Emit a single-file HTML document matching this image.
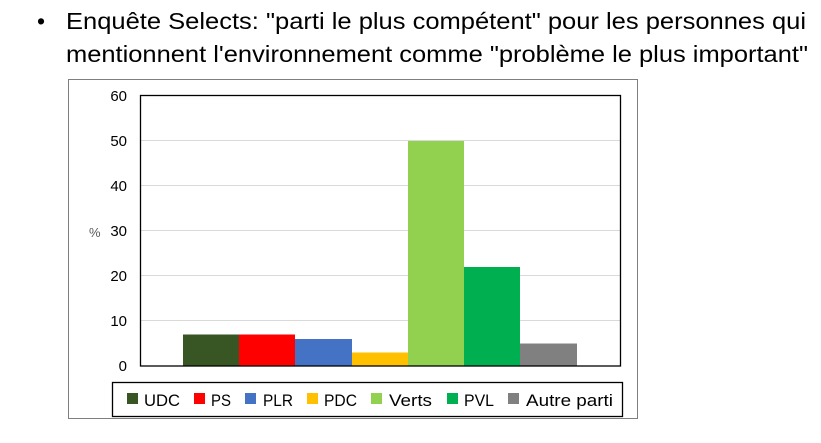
<!DOCTYPE html>
<html><head><meta charset="utf-8"><style>
html,body{margin:0;padding:0;background:#fff;width:821px;height:443px;overflow:hidden}
svg{display:block;font-family:"Liberation Sans",Arial,sans-serif}
</style></head><body>
<svg width="821" height="443" viewBox="0 0 821 443">
<text x="37" y="29" font-size="23" fill="#000">•</text>
<text x="66" y="29" font-size="23" fill="#000" textLength="740" lengthAdjust="spacingAndGlyphs">Enquête Selects: "parti le plus compétent" pour les personnes qui</text>
<text x="66" y="62" font-size="23" fill="#000" textLength="742" lengthAdjust="spacingAndGlyphs">mentionnent l'environnement comme "problème le plus important"</text>
<rect x="68.5" y="79.5" width="569" height="339" fill="#fff" stroke="#7f7f7f" stroke-width="1"/>
<g stroke="#d9d9d9" stroke-width="1">
<line x1="140" y1="140.5" x2="620" y2="140.5"/>
<line x1="140" y1="185.5" x2="620" y2="185.5"/>
<line x1="140" y1="230.5" x2="620" y2="230.5"/>
<line x1="140" y1="275.5" x2="620" y2="275.5"/>
<line x1="140" y1="320.5" x2="620" y2="320.5"/>
</g>
<rect x="183" y="334.5" width="56" height="31.5" fill="#375623"/>
<rect x="239" y="334.5" width="56" height="31.5" fill="#ff0000"/>
<rect x="295" y="339" width="57" height="27" fill="#4472c4"/>
<rect x="352" y="352.5" width="56" height="13.5" fill="#ffc000"/>
<rect x="408" y="141" width="56" height="225" fill="#92d050"/>
<rect x="464" y="267" width="56" height="99" fill="#00b050"/>
<rect x="520" y="343.5" width="57" height="22.5" fill="#808080"/>
<rect x="140.5" y="95.5" width="480" height="270.5" fill="none" stroke="#000" stroke-width="1.3"/>
<g font-size="15" fill="#000" text-anchor="end">
<text x="127" y="101">60</text>
<text x="127" y="146">50</text>
<text x="127" y="191">40</text>
<text x="127" y="236">30</text>
<text x="127" y="281">20</text>
<text x="127" y="326">10</text>
<text x="127" y="371">0</text>
</g>
<text x="89" y="237" font-size="13" fill="#595959">%</text>
<rect x="112.5" y="382.5" width="510" height="34" fill="#fff" stroke="#000" stroke-width="1.3"/>
<g font-size="17" fill="#000" lengthAdjust="spacingAndGlyphs">
<rect x="127" y="393" width="11" height="11" fill="#375623"/><text x="144" y="406" textLength="36" lengthAdjust="spacingAndGlyphs">UDC</text>
<rect x="194" y="393" width="11" height="11" fill="#ff0000"/><text x="211" y="406" textLength="20" lengthAdjust="spacingAndGlyphs">PS</text>
<rect x="245" y="393" width="11" height="11" fill="#4472c4"/><text x="263" y="406" textLength="30" lengthAdjust="spacingAndGlyphs">PLR</text>
<rect x="307" y="393" width="11" height="11" fill="#ffc000"/><text x="324" y="406" textLength="33" lengthAdjust="spacingAndGlyphs">PDC</text>
<rect x="371" y="393" width="11" height="11" fill="#92d050"/><text x="389" y="406" textLength="43" lengthAdjust="spacingAndGlyphs">Verts</text>
<rect x="447" y="393" width="11" height="11" fill="#00b050"/><text x="464" y="406" textLength="30" lengthAdjust="spacingAndGlyphs">PVL</text>
<rect x="508" y="393" width="11" height="11" fill="#808080"/><text x="526" y="406" textLength="87" lengthAdjust="spacingAndGlyphs">Autre parti</text>
</g>
</svg>
</body></html>
